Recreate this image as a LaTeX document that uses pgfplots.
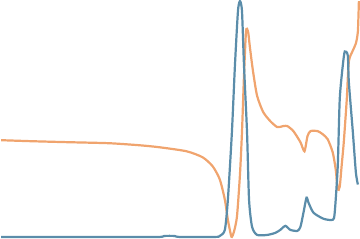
\documentclass[border=0pt]{standalone}
\usepackage{pgfplots}
\pgfplotsset{compat=1.18}
\definecolor{cOrange}{HTML}{F0A46E}
\definecolor{cBlue}{HTML}{5B8DAA}
\begin{document}
\begin{tikzpicture}
\begin{axis}[
  width=360bp, height=240bp, scale only axis,
  hide axis, xmin=0, xmax=360, ymin=0, ymax=240, y dir=reverse,
  clip=false,
]
\addplot[cOrange, line width=2.2pt, smooth, tension=0.4] coordinates {
(3,141) (33,142) (70,143) (110,144) (140,146) (160,148) (187,152) (203,158) (213,167) (220,180) (225,200) (228,220) (231,235) (232,237) (234,232) (237,217) (240,175) (242,133) (244,77) (246,33) (248,33) (250,50) (253,73) (257,97) (263,113) (270,122) (277,128) (283,127) (287,127) (293,132) (300,143) (304,152) (307,137) (310,132) (317,132) (322,135) (327,140) (332,153) (335,170) (337,190) (339,187) (341,165) (343,143) (346,100) (348,63) (352,52) (355,45) (357,33) (358,3)
};
\addplot[cBlue, line width=2.2pt, smooth, tension=0.4] coordinates {
(3,237) (60,237) (120,237) (160,237) (165,236) (175,236) (180,237) (215,237) (220,236) (225,230) (228,200) (232,133) (235,67) (238,13) (240,3) (242,13) (244,67) (247,133) (249,200) (252,227) (257,235) (267,235) (275,233) (280,230) (285,226) (290,230) (297,231) (300,227) (303,213) (306,198) (308,203) (313,213) (323,219) (332,220) (334,213) (337,167) (339,100) (342,67) (344,53) (347,57) (348,83) (352,133) (355,173) (357,185)
};
\end{axis}
\end{tikzpicture}
\end{document}
